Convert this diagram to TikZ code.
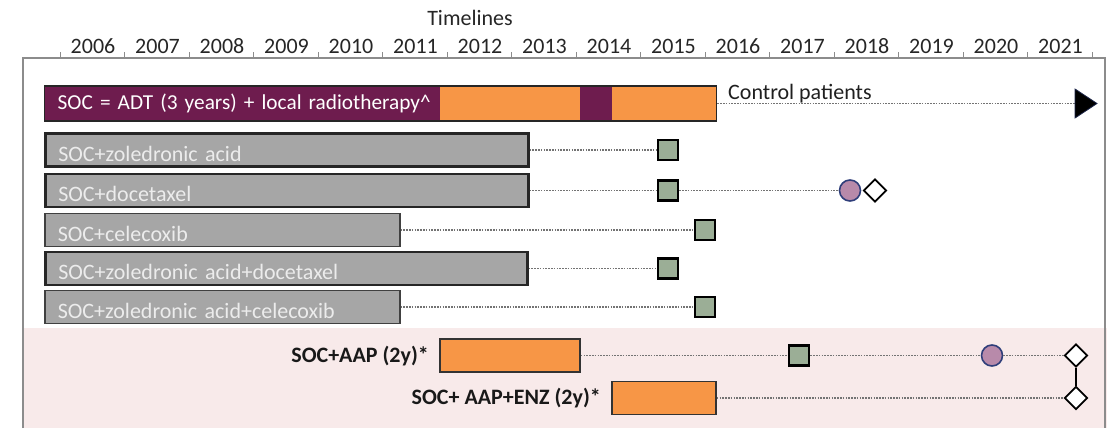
\documentclass[tikz,border=0pt]{standalone}
\usepackage{fontspec}
\setmainfont{Carlito}
\usetikzlibrary{shapes.geometric}
\definecolor{socpurple}{RGB}{110,28,78}
\definecolor{socorange}{RGB}{247,150,70}
\definecolor{armgray}{RGB}{166,166,166}
\definecolor{armtext}{RGB}{236,236,236}
\definecolor{sqgreen}{RGB}{155,174,150}
\definecolor{circpink}{RGB}{184,138,170}
\definecolor{circblue}{RGB}{47,62,122}
\definecolor{pinkband}{RGB}{248,234,234}
\definecolor{framegray}{RGB}{140,140,140}
\definecolor{inktext}{RGB}{38,38,38}
\newcommand{\diagfont}{\fontsize{22}{25}\selectfont}
\begin{document}
\begin{tikzpicture}[x=1pt,y=-1pt,font=\diagfont,
  yearlab/.style={text=inktext,inner sep=0},
  armbar/.style={draw=black!85,fill=armgray,text=armtext,line width=2.6,
    anchor=west,inner xsep=13,inner ysep=2,minimum height=33,
    text width=#1,align=left,text height=22,text depth=0},
  armbarthin/.style={armbar=#1,line width=1.6,draw=black!75},
  trtbar/.style={draw=black!80,fill=socorange,line width=1.4,
    minimum height=33,inner sep=0},
  sqmark/.style={draw=black,fill=sqgreen,line width=2.8,minimum size=20,inner sep=0},
  cimark/.style={circle,draw=circblue,fill=circpink,line width=1.6,minimum size=21,inner sep=0},
  dimark/.style={diamond,draw=black,fill=white,line width=1.8,minimum width=23,minimum height=23,inner sep=0},
  conn/.style={draw=black!55,line width=1.1,dash pattern=on 1.6pt off 1.2pt},
  armlab/.style={anchor=east,inner sep=0,font=\diagfont\bfseries,text=black!90}]
\useasboundingbox (0,0) rectangle (1107,428);

% shaded band for the newer arms
\fill[pinkband] (23,328) rectangle (1107,428);

% frame and time axis
\draw[framegray,line width=1.6] (23,428) -- (23,58) -- (1105,58) -- (1105,428);
\foreach \k in {0,...,16} \draw[framegray,line width=1] (60+64.5*\k,58) -- ++(0,-6);
\foreach \yr [count=\i from 0] in {2006,...,2021}
  \node[yearlab] (y\yr) at (60+64.5*\i+33,46) {\yr};
\node[text=inktext,inner sep=0] (title) at (470,18) {Timelines};

% control arm: SOC bar with recruitment periods
\fill[socpurple] (44,86) rectangle (440,121);
\fill[socorange] (440,86) rectangle (580,121);
\fill[socpurple] (580,86) rectangle (612,121);
\fill[socorange] (612,86) rectangle (716,121);
\node[draw=black!85,line width=1.4,anchor=west,inner xsep=13,inner ysep=2,
  minimum height=35,text width=646,align=left,text=white,
  font=\fontsize{21.3}{25}\selectfont] (soc) at (44,103.5)
  {SOC = ADT (3 years) + local radiotherapy\textasciicircum};
\node[anchor=base west,inner sep=0,text=black!88] (ctrl) at (728,99) {Control patients};
\coordinate (ctrlend) at (1075,103.5);
\draw[conn] (soc.east) -- (ctrlend);
\fill[black,draw=circblue!60!black,line width=0.8] (1075,89) -- (1097,103.5) -- (1075,118) -- cycle;

% closed comparison arms
\node[armbar=457] (zol) at (44,150) {SOC+zoledronic acid};
\node[armbar=457] (doc) at (44,190.5) {SOC+docetaxel};
\node[armbarthin=329] (cel) at (44,230) {SOC+celecoxib};
\node[armbar=456] (zd) at (44,268.5) {SOC+zoledronic acid+docetaxel};
\node[armbarthin=329] (zc) at (44,307) {SOC+zoledronic acid+celecoxib};

\node[sqmark] (zolsq) at (668,150) {};
\node[sqmark] (docsq) at (668,190.5) {};
\node[cimark] (docci) at (850,190.5) {};
\node[dimark] (docdi) at (875,190.5) {};
\node[sqmark] (celsq) at (705,230) {};
\node[sqmark] (zdsq) at (668,268.5) {};
\node[sqmark] (zcsq) at (705,307) {};

\draw[conn] (zol.east) -- (zolsq.west);
\draw[conn] (doc.east) -- (docsq.west);
\draw[conn] (docsq.east) -- (docci.west);
\draw[conn] (cel.east) -- (celsq.west);
\draw[conn] (zd.east) -- (zdsq.west);
\draw[conn] (zc.east) -- (zcsq.west);

% abiraterone arms
\node[trtbar,minimum width=140] (aap) at (510,355.5) {};
\node[trtbar,minimum width=104] (enz) at (664,398) {};
\node[armlab] (aaplab) at (429,356) {SOC+AAP (2y)*};
\node[armlab] (enzlab) at (601,398) {SOC+ AAP+ENZ (2y)*};

\node[sqmark] (aapsq) at (799,355.5) {};
\node[cimark] (aapci) at (992,355.5) {};
\node[dimark] (aapdi) at (1076,355.5) {};
\node[dimark] (enzdi) at (1076,398) {};

\draw[conn] (aap.east) -- (aapsq.west);
\draw[conn] (aapsq.east) -- (aapci.west);
\draw[conn] (aapci.east) -- (aapdi.west);
\draw[conn] (enz.east) -- (enzdi.west);
\draw[black,line width=1.8] (aapdi.south) -- (enzdi.north);
\end{tikzpicture}
\end{document}
